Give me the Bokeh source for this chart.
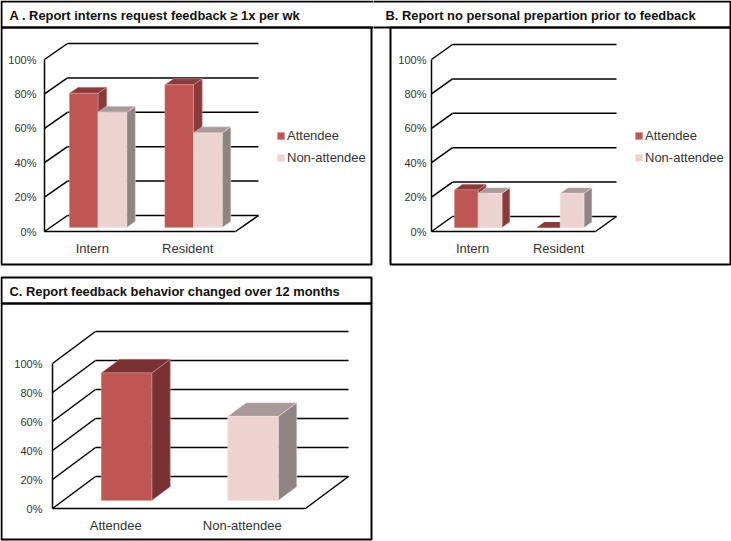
from bokeh.plotting import figure
from bokeh.layouts import column, row
from bokeh.models import BoxAnnotation, Label, Legend, LegendItem, FixedTicker
from bokeh.embed import file_html
from bokeh.resources import INLINE

FONT = "Liberation Sans"
y_ticks = [0, 20, 40, 60, 80, 100]
y_tick_labels = ["0%", "20%", "40%", "60%", "80%", "100%"]

categories_ab = ["Intern", "Resident"]
series_names = ["Attendee", "Non-attendee"]
a_attendee = [78, 83]
a_non_attendee = [67, 55]
b_attendee = [22, 0]
b_non_attendee = [20, 20]
categories_c = ["Attendee", "Non-attendee"]
c_values = [88, 58]

title_a = "A . Report interns request feedback \u2265 1x per wk"
title_b = "B. Report no personal prepartion prior to feedback"
title_c = "C. Report feedback behavior changed over 12 months"

RED = dict(front="#BE5653", top="#8A3A3A", side="#8A3A3A", edge="#D9A09D")
PINK = dict(front="#EDD3D0", top="#A89A98", side="#8F8483", edge="#F3E3E1")
RED_C = dict(front="#BE5653", top="#7A3133", side="#7A3133", edge="#D9A09D")
PINK_RED_SIDE = dict(front="#EDD3D0", top="#A89A98", side="#8A3A3A", edge="#F3E3E1")


def panel(title, W, H, ox, oy, ux, uy, dpx, dpy, tx, ty):
    """ox/oy: canvas position of the data origin; ux/uy: pixels per data unit."""
    p = figure(width=W, height=H, output_backend="svg", toolbar_location=None,
               x_range=(-ox / ux, (W - ox) / ux), y_range=((oy - H) / uy, oy / uy),
               min_border_left=0, min_border_right=0, min_border_top=0, min_border_bottom=0,
               background_fill_color="white", border_fill_color="white")
    p.outline_line_color = None
    p.grid.visible = False
    p.add_layout(Label(x=tx, y=H - ty, x_units="screen", y_units="screen", text=title,
                       text_font=FONT, text_font_size="12.9px", text_font_style="bold",
                       text_color="#111111", text_baseline="middle"))
    return p, dpx / ux, dpy / uy


def finish_axes(p, cats, y_standoff, tick_pos=(0.5, 1.5)):
    p.yaxis.ticker = FixedTicker(ticks=y_ticks)
    p.yaxis.major_label_overrides = dict(zip(y_ticks, y_tick_labels))
    p.yaxis.bounds = (0, 100)
    p.yaxis.fixed_location = 0
    p.xaxis.ticker = FixedTicker(ticks=list(tick_pos))
    p.xaxis.major_label_overrides = dict(zip(tick_pos, cats))
    p.xaxis.bounds = (0, 2)
    p.xaxis.fixed_location = 0
    for ax in (p.xaxis, p.yaxis):
        ax.major_tick_line_color = None
        ax.minor_tick_line_color = None
        ax.major_tick_out = 0
        ax.major_tick_in = 0
        ax.minor_tick_out = 0
        ax.axis_line_color = "black"
        ax.axis_line_width = 1.5
        ax.major_label_text_font = FONT
        ax.major_label_text_color = "#333333"
    p.yaxis.major_label_text_font_size = "11px"
    p.xaxis.major_label_text_font_size = "13px"
    p.yaxis.major_label_standoff = y_standoff
    p.xaxis.major_label_standoff = 9


def walls(p, dx, dy):
    x0, x1, y0, y1 = [], [], [], []
    for v in y_ticks:
        x0 += [0, dx]
        y0 += [v, v + dy]
        x1 += [dx, 2 + dx]
        y1 += [v + dy, v + dy]
    x0.append(2); y0.append(0); x1.append(2 + dx); y1.append(dy)
    p.segment(x0, y0, x1, y1, line_color="black", line_width=1.5)


def bar(p, xc, width, value, dx, dy, colors, d0=0.25, d1=0.63):
    left, right = xc - width / 2 + d0 * dx, xc + width / 2 + d0 * dx
    base, top = d0 * dy, value + d0 * dy
    ox, oy = (d1 - d0) * dx, (d1 - d0) * dy
    if value > 0:
        p.patch([right, right + ox, right + ox, right],
                [base, base + oy, top + oy, top], fill_color=colors["side"],
                line_color=colors["edge"], line_width=0.5)
    p.patch([left, right, right + ox, left + ox],
            [top, top, top + oy, top + oy], fill_color=colors["top"],
            line_color=colors["edge"] if value > 0 else None, line_width=0.5)
    if value > 0:
        return p.quad(left=left, right=right, bottom=base, top=top,
                      fill_color=colors["front"], line_color=colors["edge"], line_width=0.5)
    return None


def boxes(p, *rects):
    for (l, r, t, b) in rects:
        p.add_layout(BoxAnnotation(left=l, right=r, top=t, bottom=b,
                                   left_units="canvas", right_units="canvas",
                                   top_units="canvas", bottom_units="canvas",
                                   fill_alpha=0, line_color="black", line_alpha=1, line_width=2))


def add_legend(p, renderers, x, y):
    items = [LegendItem(label=n, renderers=[r]) for n, r in zip(series_names, renderers)]
    leg = Legend(items=items, location=(x, y), orientation="vertical",
                 background_fill_alpha=0, border_line_color=None,
                 label_text_font=FONT, label_text_font_size="13px", label_text_color="#333333",
                 glyph_width=9, glyph_height=9, label_standoff=2, spacing=6,
                 padding=0, margin=0, label_height=16)
    p.add_layout(leg, "center")


# Panel A
A, dx, dy = panel(title_a, 373, 270, 44, 231, 95.5, 1.72, 23, 16, 9, 15)
walls(A, dx, dy)
ra = [None, None]
for i in range(2):
    r1 = bar(A, i + 0.35, 0.3, a_attendee[i], dx, dy, RED)
    r2 = bar(A, i + 0.65, 0.3, a_non_attendee[i], dx, dy, PINK)
    ra[0] = ra[0] or r1
    ra[1] = ra[1] or r2
finish_axes(A, categories_ab, 8)
boxes(A, (1, 380, 1, 27), (1, 371, 27, 264))
add_legend(A, ra, 276, 105)

# Panel B
B, dx, dy = panel(title_b, 358, 270, 58, 231, 82, 1.72, 21, 15, 12, 15)
walls(B, dx, dy)
rb = [None, None]
for i in range(2):
    r1 = bar(B, i + 0.36, 0.29, b_attendee[i], dx, dy, RED)
    r2 = bar(B, i + 0.65, 0.29, b_non_attendee[i], dx, dy, PINK_RED_SIDE if i == 0 else PINK)
    rb[0] = rb[0] or r1
    rb[1] = rb[1] or r2
finish_axes(B, categories_ab, 5, tick_pos=(0.5, 1.55))
boxes(B, (-5, 357, 1, 27), (17, 357, 27, 264))
add_legend(B, rb, 261, 105)

# Panel C
C, dx, dy = panel(title_c, 373, 271, 52, 238, 126.5, 1.45, 43, 32, 9, 21)
walls(C, dx, dy)
bar(C, 0.5, 0.4, c_values[0], dx, dy, RED_C, d1=0.68)
bar(C, 1.5, 0.4, c_values[1], dx, dy, PINK, d1=0.68)
finish_axes(C, categories_c, 10)
boxes(C, (1, 371, 7, 33), (1, 371, 33, 269))

page = column(row(A, B, spacing=0), C, spacing=0)
open("out.html", "w").write(file_html(page, INLINE))
